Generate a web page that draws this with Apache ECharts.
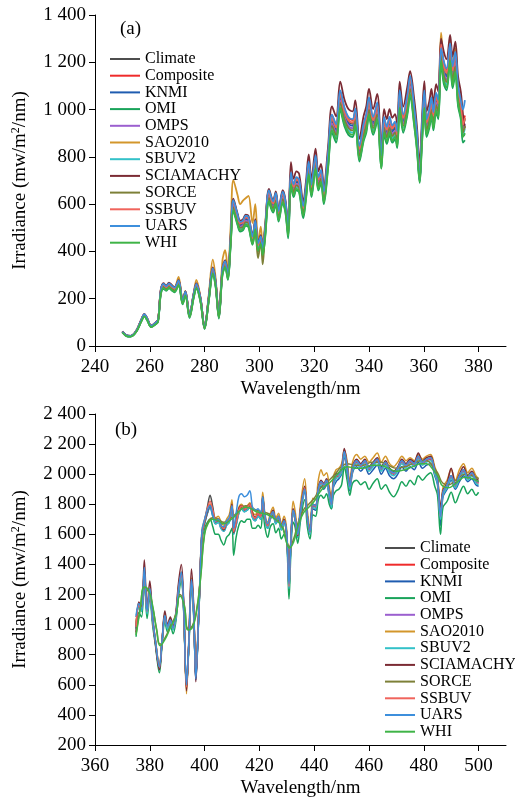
<!DOCTYPE html>
<html>
<head>
<meta charset="utf-8">
<script src="https://cdn.jsdelivr.net/npm/echarts@6/dist/echarts.min.js"></script>
<style>
  html, body { margin: 0; padding: 0; background: #ffffff; }
  #chart { width: 515px; height: 800px; }
</style>
</head>
<body>
<div id="chart"></div>
<script>
// Series names and colours (legend order)
const names = ['Climate', 'Composite', 'KNMI', 'OMI', 'OMPS', 'SAO2010', 'SBUV2', 'SCIAMACHY', 'SORCE', 'SSBUV', 'UARS', 'WHI'];
const colors = ['#4d4d4d', '#ef2b2b', '#1f5cb0', '#19a35a', '#9b5fcf', '#d3962b', '#33c1c8', '#7b2b34', '#7d8038', '#f0645c', '#3d8fdc', '#3fb447'];

// ---- Panel (a): 250 - 375 nm ----
const wlA = [250,251.5,253,255,257,258,259,260.5,262,263, 264,265,266,267,268,269,270.5,272,273,274.5,
  276,277,278.5,280,281.5,283,284,285.2,286.5,287.5, 288.5,289.5,290.5,292,293,294,295,296,297.5,298.5,
  299.5,300.5,301.2,302,303.5,305,306,307,308.5,309.5, 310.5,311.5,312.5,313.5,314.5,316,317,318,319,320.5,
  321.5,322.5,323.5,325,326.5,328,329.5,331,332.5,334, 335,336.5,338,339,340,341.5,343,344.5,345.5,346.5,
  347.5,348.5,349.5,350.3,351.2,352.5,354,355,356.5,357.5, 358.5,359.3,360.2,361,362,362.8,363.5,364.5,365.3,366.3,
  367.3,368.3,369.6,370.5,371.5,372.5,373.5,374.3,375];

const climateA = [60,44,42,62,112,132,116,84,96,108, 230,258,248,260,250,242,272,188,225,128,
  215,258,198,78,200,322,268,126,318,352, 298,450,605,545,515,520,540,535,455,520,
  425,455,405,475,645,600,635,560,640,600, 490,720,670,700,690,580,660,765,670,790,
  700,730,640,790,960,920,1060,990,950,940, 985,830,920,960,1030,950,1010,790,950,910,
  950,915,930,890,1060,960,1040,1120,990,880, 730,900,1060,940,980,1030,970,1050,1020,1270,
  1180,1150,1270,1160,1220,1080,1020,930,960];
const compositeA = [61,45,43,63,114,134,118,86,98,110, 234,262,252,264,254,246,276,192,229,131,
  219,262,202,80,204,328,273,129,324,358, 304,458,615,554,523,528,548,543,462,528,
  432,462,412,483,655,609,645,569,650,609, 498,732,681,711,701,590,671,777,681,803,
  711,742,650,803,975,935,1077,1006,965,955, 1001,843,935,975,1046,965,1026,803,965,925,
  965,930,945,904,1077,975,1057,1138,1006,894, 742,915,1077,955,996,1046,985,1067,1036,1290,
  1199,1168,1290,1178,1240,1097,1036,945,975];
const knmiA = [59,44,42,61,111,131,115,83,95,107, 228,255,246,257,248,240,269,186,223,127,
  213,255,196,77,198,319,265,125,315,348, 295,446,599,540,510,515,535,530,450,515,
  421,450,401,470,639,594,629,554,634,594, 485,713,663,693,683,574,653,757,663,782,
  693,723,634,782,950,911,1049,980,941,931, 975,822,911,950,1020,941,1000,782,941,901,
  941,906,921,881,1049,950,1030,1109,980,871, 700,891,1049,931,970,1020,960,1040,1010,1257,
  1168,1139,1257,1148,1208,1069,1000,900,890];
const omiA = [57,42,40,59,106,125,110,80,91,102, 216,242,233,244,235,227,255,176,211,118,
  202,242,186,72,188,302,252,116,299,331, 280,423,569,512,484,489,508,503,428,489,
  400,428,381,447,606,564,597,526,602,564, 455,677,630,658,649,540,620,719,630,743,
  658,686,600,743,902,860,996,931,893,884, 926,780,865,902,968,893,949,750,893,855,
  893,860,874,837,996,902,978,1053,931,827, 690,846,996,884,921,968,912,987,959,1194,
  1109,1081,1194,1090,1147,1015,959,860,870];
const ompsA = [59,43,41,61,110,129,114,82,94,106, 225,253,243,255,245,237,267,184,221,125,
  211,253,194,76,196,316,263,123,312,345, 292,441,593,534,505,510,529,524,446,510,
  417,446,397,466,632,588,622,549,627,588, 480,706,657,686,676,568,647,750,657,774,
  686,715,627,774,941,902,1039,970,931,921, 965,813,902,941,1009,931,990,774,931,892,
  931,897,911,872,1039,941,1019,1098,970,862, 715,882,1039,921,960,1009,951,1029,1000,1245,
  1156,1127,1245,1137,1196,1058,1000,911,940];
const saoA = [60,44,42,62,112,134,117,85,97,110, 236,264,254,266,256,248,292,192,232,130,
  222,280,205,80,215,365,290,128,360,405, 320,500,702,640,600,615,625,635,520,600,
  440,505,420,505,650,605,640,565,645,605, 495,725,675,705,695,585,665,770,675,795,
  705,735,645,795,965,925,1065,995,955,945, 990,835,925,965,1035,955,1015,795,955,915,
  955,920,935,895,1065,965,1045,1125,995,885, 735,905,1065,945,985,1035,975,1055,1025,1325,
  1185,1155,1290,1165,1260,1085,1025,935,965];
const sbuv2A = [58,42,40,60,108,127,111,81,92,104, 221,248,238,250,240,232,261,180,216,123,
  206,248,190,75,192,309,257,121,305,338, 286,432,581,523,494,499,518,514,437,499,
  408,437,389,456,619,576,610,538,614,576, 470,691,643,672,662,557,634,734,643,758,
  672,701,614,758,922,883,1018,950,912,902, 946,797,883,922,989,912,970,758,912,874,
  912,878,893,854,1018,922,998,1075,950,845, 701,864,1018,902,941,989,931,1008,979,1219,
  1133,1104,1219,1114,1171,1037,979,893,920];
const sciaA = [62,45,43,64,115,136,119,87,99,111, 237,266,255,268,258,249,280,194,232,132,
  221,266,204,80,206,332,276,130,328,363, 307,464,623,561,530,536,556,551,469,536,
  438,469,417,489,664,618,654,577,659,618, 505,778,707,739,728,612,696,810,707,835,
  739,770,675,834,1013,971,1118,1044,1002,992, 1039,876,971,1013,1087,1002,1066,834,1002,960,
  1002,965,981,939,1118,1013,1097,1162,1044,928, 770,950,1120,992,1034,1087,1023,1108,1076,1300,
  1245,1213,1316,1224,1287,1140,1076,980,920];
const sorceA = [58,43,41,60,109,128,113,81,93,105, 223,250,241,252,243,235,264,182,218,124,
  209,250,192,76,194,312,260,122,308,341, 289,437,587,529,500,504,524,519,441,480,
  372,441,345,461,626,582,616,543,621,582, 475,698,650,679,669,563,640,742,650,766,
  679,708,621,766,931,892,1028,960,922,912, 955,805,892,931,999,922,980,766,922,883,
  922,888,902,863,1028,931,1009,1086,960,854, 708,873,1028,912,951,999,941,1019,989,1232,
  1145,1116,1232,1125,1183,1048,989,902,931];
const ssbuvA = [60,44,42,62,113,133,117,85,97,109, 231,259,249,261,251,243,273,189,226,129,
  216,259,199,78,201,324,269,127,320,354, 300,452,608,548,518,523,543,538,457,523,
  427,457,407,477,648,603,638,563,643,603, 492,724,673,704,693,583,663,769,673,794,
  704,734,643,794,965,925,1065,995,955,945, 990,834,925,965,1035,955,1015,794,955,915,
  955,920,935,894,1065,965,1045,1126,995,884, 734,905,1065,945,985,1035,975,1055,1025,1276,
  1186,1156,1276,1166,1226,1085,1025,935,965];
const uarsA = [61,45,43,63,114,135,118,86,98,110, 235,263,253,265,255,247,277,192,230,131,
  219,263,202,80,204,328,273,129,324,359, 304,459,617,556,525,530,551,546,464,530,
  434,464,413,485,658,612,648,571,653,612, 500,734,683,714,704,592,673,780,683,806,
  714,745,653,806,979,938,1081,1010,969,959, 1005,847,938,979,1051,969,1030,806,969,928,
  969,933,949,908,1081,979,1061,1142,1010,898, 700,918,1081,959,1000,1051,989,1071,1040,1260,
  1204,1173,1280,1183,1244,1102,1040,1000,1040];
const whiA = [57,42,40,59,106,125,110,80,91,103, 219,245,236,247,238,230,258,179,214,122,
  204,245,188,74,190,306,255,120,302,334, 283,428,575,518,489,494,513,508,432,494,
  404,432,385,451,613,570,603,532,608,570, 466,684,637,665,656,551,627,727,637,751,
  665,694,608,751,912,874,1007,941,903,893, 936,789,874,912,979,903,960,751,903,865,
  903,869,884,846,1007,912,988,1064,941,836, 694,855,1007,893,931,979,922,998,969,1207,
  1121,1093,1207,1102,1159,1026,969,884,900];

// ---- Panel (b): 375 - 500 nm ----
const wlB = [375,376,377,378,379,380,381,382,383.5,384.5, 385.5,386.5,387.5,388.5,389.5,390.5,391.5,392.3,393.4,394.3,
  395.2,396,396.8,398,399,400,401,402,403,404, 405,406,407,408,409,410,410.6,411.5,412.5,413.5,
  414.5,415.5,416.5,417.5,418.5,419.5,420.5,421.2,422,423, 424,425,426,427,428,429,430,430.8,431.5,432.3,
  433,434,435,436.5,437.5,438.5,439.5,440.5,441.5,442.5, 443.5,444.5,445.5,446.3,447,448,449,450,451,452,
  453,454,455.5,457,458.5,460,461.5,463,464.5,466, 467.5,469,470.5,472,473.5,475,476.5,478,479.5,481,
  482.5,484,485,486.1,487,488.5,490,491.5,493,494.5, 496,497.5,499,500];
// smooth (low resolution) instruments use their own grid
const wlS = [375,376.5,378,379.5,381,382.5,383.8,385.5,387.5,389.5, 391,392.5,394,395.5,397,398.5,400,401.5,403,405,
  407,409,411,413,415,417,419,421,423,425, 427,428.5,430,431,432.5,434,436,438,440,442,
  444,446,448,450,452,455,458,461,464,467, 470,473,476,479,481,483,485,487,489,491, 493,495,497,500];

const climateB = [980,1130,1110,1360,1090,1230,1040,900,720,900, 1060,990,1030,980,1060,1240,1340,1150,580,900,
  1300,1100,650,1150,1600,1690,1780,1860,1780,1700, 1700,1660,1640,1680,1700,1790,1620,1680,1760,1790,
  1770,1780,1800,1730,1710,1740,1720,1840,1720,1660, 1720,1750,1690,1720,1650,1690,1600,1260,1560,1760,
  1720,1600,1760,1910,1720,1620,1800,1790,1900,1950, 1930,1960,1880,1800,1940,1990,2000,2030,2150,2050,
  1920,2040,2090,2060,2090,2040,2070,2100,2040,2080, 2030,2010,2040,2090,2060,2090,2070,2120,2080,2100,
  2110,2020,1960,1720,1880,1930,1990,1930,1990,2030, 1980,2010,1960,1950];
const compositeB = [990,1120,1100,1340,1080,1220,1030,890,710,890, 1050,980,1020,970,1050,1230,1320,1130,600,890,
  1280,1090,680,1140,1590,1680,1740,1790,1730,1680, 1690,1650,1630,1670,1690,1780,1610,1670,1750,1780,
  1760,1770,1790,1720,1700,1730,1710,1830,1710,1650, 1710,1740,1680,1710,1640,1680,1590,1250,1550,1750,
  1710,1590,1750,1900,1710,1610,1790,1780,1890,1940, 1920,1950,1870,1790,1930,1980,1990,2020,2140,2040,
  1910,2030,2080,2050,2080,2030,2060,2090,2030,2070, 2020,2000,2030,2080,2050,2080,2060,2110,2070,2090,
  2100,2010,1950,1710,1870,1920,1980,1920,1980,2020, 1970,2000,1950,1940];
const knmiB = [1050,1120,1090,1340,1080,1210,1030,890,710,890, 1040,970,1010,970,1040,1220,1310,1120,600,880,
  1270,1080,630,1130,1580,1670,1740,1780,1720,1670, 1680,1640,1620,1660,1680,1760,1600,1660,1740,1770,
  1750,1760,1780,1710,1690,1720,1700,1820,1700,1640, 1700,1730,1670,1700,1630,1670,1580,1230,1540,1740,
  1700,1580,1730,1880,1700,1600,1770,1760,1870,1920, 1900,1930,1850,1770,1910,1950,1970,2000,2120,2010,
  1890,2010,2050,2020,2050,2000,2030,2060,2000,2040, 1990,1970,2000,2050,2020,2050,2030,2080,2040,2060,
  2070,1990,1930,1660,1850,1900,1960,1900,1950,1990, 1950,1970,1930,1920];
const omiB = [920,1080,1050,1300,1040,1180,1000,870,680,870, 1020,950,990,940,1020,1190,1290,1110,590,870,
  1250,1060,660,1120,1560,1640,1680,1700,1650,1600, 1600,1560,1530,1580,1600,1640,1460,1580,1660,1690,
  1680,1700,1700,1640,1640,1660,1640,1760,1650,1580, 1650,1670,1610,1640,1570,1600,1540,1170,1480,1680,
  1650,1540,1690,1830,1650,1570,1730,1720,1830,1860, 1840,1870,1800,1770,1860,1890,1900,1930,2050,1960,
  1860,1940,1960,1930,1950,1900,1940,1970,1900,1930, 1880,1850,1890,1950,1920,1960,1930,1990,1960,1990,
  2010,1920,1860,1600,1780,1820,1880,1810,1870,1920, 1870,1900,1860,1880];
const ompsB = [975,1125,1105,1350,1085,1225,1035,895,715,895, 1055,985,1025,975,1055,1235,1330,1145,590,895,
  1290,1095,660,1145,1595,1685,1760,1800,1740,1690, 1695,1655,1635,1675,1695,1785,1615,1675,1755,1785,
  1765,1775,1795,1725,1705,1735,1715,1835,1715,1655, 1715,1745,1685,1715,1645,1685,1595,1250,1555,1755,
  1715,1595,1755,1905,1715,1615,1795,1785,1895,1945, 1925,1955,1875,1795,1935,1985,1995,2025,2145,2045,
  1915,2035,2085,2055,2085,2035,2065,2095,2035,2075, 2025,2005,2035,2085,2055,2085,2065,2115,2075,2095,
  2105,2015,1955,1715,1875,1925,1985,1925,1985,2025, 1975,2005,1955,1945];
const saoB = [1000,1140,1120,1360,1100,1240,1050,910,730,910, 1070,1000,1040,990,1070,1260,1350,1160,540,920,
  1310,1120,700,1160,1620,1700,1760,1800,1750,1710, 1720,1680,1660,1700,1730,1830,1640,1700,1780,1800,
  1780,1790,1810,1750,1730,1760,1740,1880,1740,1680, 1740,1780,1710,1740,1670,1720,1620,1300,1580,1820,
  1760,1630,1800,1970,1760,1650,1840,1830,1960,2030, 1990,2010,1920,1830,1980,2030,2040,2070,2160,2090,
  1950,2080,2130,2100,2120,2080,2110,2140,2080,2120, 2070,2050,2080,2120,2090,2110,2090,2130,2100,2120,
  2130,2050,1990,1760,1910,1960,2030,1960,2030,2070, 2010,2040,1990,1970];
const sbuv2B = [970,1110,1090,1330,1070,1210,1030,890,710,890, 1040,970,1010,965,1040,1220,1310,1130,590,890,
  1270,1080,660,1130,1580,1670,1740,1780,1720,1670, 1680,1640,1620,1660,1680,1770,1600,1660,1740,1770,
  1750,1760,1780,1710,1690,1720,1700,1820,1700,1640, 1700,1730,1670,1700,1630,1670,1580,1240,1540,1740,
  1700,1580,1740,1890,1700,1600,1780,1770,1880,1930, 1910,1940,1860,1780,1920,1970,1980,2010,2130,2030,
  1900,2020,2070,2040,2070,2020,2050,2080,2020,2060, 2010,1990,2020,2070,2040,2070,2050,2100,2060,2080,
  2090,2000,1940,1700,1860,1910,1970,1910,1970,2010, 1960,1990,1940,1930];
const sciaB = [950,1150,1120,1430,1100,1290,1060,880,700,900, 1090,1000,1050,990,1080,1280,1400,1180,560,920,
  1370,1130,620,1140,1600,1680,1750,1790,1740,1700, 1700,1660,1630,1680,1700,1800,1610,1680,1770,1790,
  1770,1780,1800,1740,1710,1740,1720,1850,1720,1660, 1720,1760,1690,1720,1650,1700,1590,1330,1560,1770,
  1720,1590,1770,1920,1720,1620,1800,1790,1910,1960, 1940,1970,1890,1800,1950,2000,2010,2040,2170,2060,
  1930,2050,2100,2070,2100,2050,2080,2110,2050,2090, 2040,2020,2050,2100,2070,2100,2080,2140,2090,2110,
  2120,2030,1970,1780,1890,1940,2040,1940,2000,2050, 1990,2020,1970,1960];
const sorceB = [940,1110,1240,1220,1120,970,870,910,990,1070, 1200,1140,975,990,1090,1310,1610,1690,1710,1700,
  1680,1700,1730,1770,1790,1780,1760,1750,1740,1720, 1690,1650,1550,1520,1570,1670,1760,1800,1840,1900,
  1940,1970,2010,2050,2070,2060,2060,2080,2080,2060, 2040,2050,2070,2090,2090,2060,2010,1940,1930,1950,
  1980,2000,1995,1970];
const ssbuvB = [985,1128,1108,1355,1088,1228,1038,898,718,898, 1058,988,1028,978,1058,1238,1335,1148,585,898,
  1295,1098,655,1148,1598,1688,1770,1820,1760,1698, 1698,1658,1638,1678,1698,1788,1618,1678,1758,1788,
  1768,1778,1798,1728,1708,1738,1718,1838,1718,1658, 1718,1748,1688,1718,1648,1688,1598,1255,1558,1758,
  1718,1598,1758,1908,1718,1618,1798,1788,1898,1948, 1928,1958,1878,1798,1938,1988,1998,2028,2148,2048,
  1918,2038,2088,2058,2088,2038,2068,2098,2038,2078, 2028,2008,2038,2088,2058,2088,2068,2118,2078,2098,
  2108,2018,1958,1718,1878,1928,1988,1928,1988,2028, 1978,2008,1958,1948];
const uarsB = [1060,1140,1100,1380,1090,1240,1050,900,720,900, 1060,990,1030,980,1060,1240,1350,1160,600,900,
  1300,1100,640,1150,1620,1700,1760,1790,1730,1690, 1700,1660,1650,1690,1710,1790,1640,1740,1850,1870,
  1850,1860,1890,1780,1760,1770,1740,1850,1730,1670, 1720,1750,1690,1720,1650,1690,1600,1270,1560,1760,
  1720,1600,1760,1900,1720,1620,1800,1790,1900,1950, 1930,1960,1880,1800,1940,1990,2000,2030,2150,2050,
  1920,2040,2090,2060,2090,2040,2070,2100,2040,2080, 2030,2010,2040,2090,2060,2090,2070,2120,2080,2100,
  2110,2020,1960,1720,1880,1930,1990,1930,1990,2030, 1980,2010,1960,1950];
const whiB = [930,1100,1250,1230,1130,960,860,900,980,1060, 1190,1130,965,980,1080,1300,1600,1680,1700,1690,
  1670,1690,1720,1760,1780,1770,1750,1740,1730,1710, 1680,1640,1540,1510,1550,1650,1740,1780,1820,1880,
  1920,1950,1990,2030,2050,2040,2040,2060,2060,2040, 2020,2030,2050,2070,2070,2040,1990,1920,1910,1930,
  1960,1980,1975,1950];

// Tick values
const ticksXA = [240, 260, 280, 300, 320, 340, 360, 380];
const ticksXB = [360, 380, 400, 420, 440, 460, 480, 500];

const panelA = [climateA, compositeA, knmiA, omiA, ompsA, saoA, sbuv2A, sciaA, sorceA, ssbuvA, uarsA, whiA];
const panelB = [climateB, compositeB, knmiB, omiB, ompsB, saoB, sbuv2B, sciaB, sorceB, ssbuvB, uarsB, whiB];
const panelBGrid = [wlB, wlB, wlB, wlB, wlB, wlB, wlB, wlB, wlS, wlB, wlB, wlS];

const FONT = 'Liberation Serif';

// "1 400" style labels
const thousands = (v) => v >= 1000 ? Math.floor(v / 1000) + ' ' + String(v % 1000).padStart(3, '0') : String(v);

const zip = (xs, ys) => xs.map((x, i) => [x, ys[i]]);

const makeX = (idx, min, max, ticks) => ({
    type: 'value', gridIndex: idx, min: min, max: max, interval: 20,
    name: 'Wavelength/nm', nameLocation: 'middle', nameGap: 34,
    nameTextStyle: { fontFamily: FONT, fontSize: 19, color: '#000' },
    axisLine: { show: true, lineStyle: { color: '#000', width: 1 } },
    axisTick: { show: true, length: 6, customValues: ticks, lineStyle: { color: '#000' } },
    axisLabel: { customValues: ticks, margin: 12, fontFamily: FONT, fontSize: 19, color: '#000' },
    splitLine: { show: false }
});

const makeY = (idx, min, max) => ({
    type: 'value', gridIndex: idx, min: min, max: max, interval: 200,
    name: 'Irradiance (mw/m{sup|2}/nm)', nameLocation: 'middle', nameGap: 64,
    nameTextStyle: { fontFamily: FONT, fontSize: 19, color: '#000',
        rich: { sup: { fontFamily: FONT, fontSize: 12, color: '#000', padding: [0, 0, 9, 0] } } },
    axisLine: { show: true, lineStyle: { color: '#000', width: 1 } },
    axisTick: { show: true, length: 6, lineStyle: { color: '#000' } },
    axisLabel: { margin: 9, fontFamily: FONT, fontSize: 19, color: '#000', formatter: thousands },
    splitLine: { show: false }
});

const series = [];
names.forEach((name, i) => {
    series.push({
        name: name, type: 'line', xAxisIndex: 0, yAxisIndex: 0,
        data: zip(wlA, panelA[i]), symbol: 'none', smooth: 0.35,
        lineStyle: { color: colors[i], width: 1.8 }, itemStyle: { color: colors[i] }
    });
});
names.forEach((name, i) => {
    const lowRes = panelBGrid[i] === wlS;
    series.push({
        name: name, type: 'line', xAxisIndex: 1, yAxisIndex: 1,
        data: zip(panelBGrid[i], panelB[i]), symbol: 'none', smooth: lowRes ? 0.5 : 0.35,
        lineStyle: { color: colors[i], width: 1.5 }, itemStyle: { color: colors[i] }
    });
});

const legendBase = {
    orient: 'vertical', icon: 'rect', itemWidth: 30, itemHeight: 2, itemGap: 0.7, padding: 0,
    textStyle: { fontFamily: FONT, fontSize: 16, color: '#000', lineHeight: 16 },
    data: names
};

const option = {
    animation: false,
    backgroundColor: '#ffffff',
    grid: [
        { left: 95, top: 15, width: 411, height: 331, outerBoundsMode: 'none' },
        { left: 95, top: 414, width: 411, height: 331, outerBoundsMode: 'none' }
    ],
    xAxis: [makeX(0, 240, 390, ticksXA), makeX(1, 360, 510, ticksXB)],
    yAxis: [makeY(0, 0, 1400), makeY(1, 200, 2400)],
    legend: [
        Object.assign({}, legendBase, { left: 110, top: 51 }),
        Object.assign({}, legendBase, { left: 385, top: 540 })
    ],
    graphic: [
        { type: 'text', left: 120, top: 20, style: { text: '(a)', font: '19px "Liberation Serif"', fill: '#000' } },
        { type: 'text', left: 115, top: 421, style: { text: '(b)', font: '19px "Liberation Serif"', fill: '#000' } }
    ],
    series: series
};

const chart = echarts.init(document.getElementById('chart'));
chart.setOption(option);
</script>
</body>
</html>
